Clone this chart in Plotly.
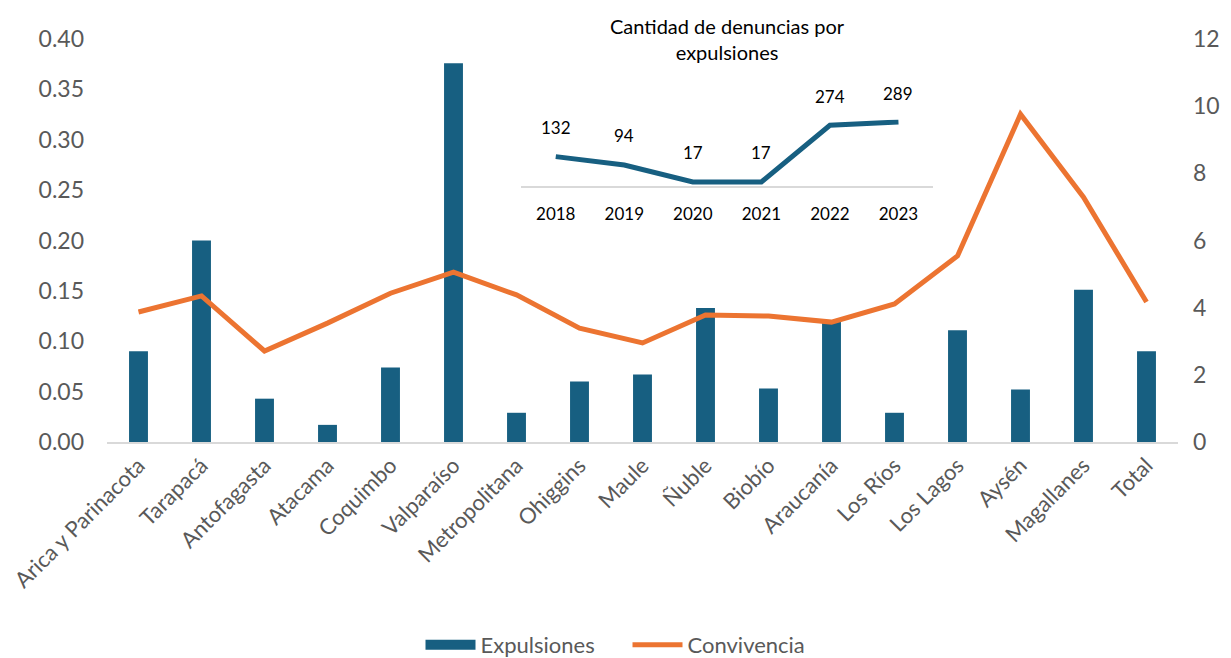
import plotly.graph_objects as go

regiones = ["Arica y Parinacota", "Tarapacá", "Antofagasta", "Atacama", "Coquimbo",
            "Valparaíso", "Metropolitana", "Ohiggins", "Maule", "Ñuble", "Biobío",
            "Araucanía", "Los Ríos", "Los Lagos", "Aysén", "Magallanes", "Total"]
expulsiones = [0.090, 0.200, 0.043, 0.017, 0.074, 0.376, 0.029, 0.060, 0.067,
               0.133, 0.053, 0.120, 0.029, 0.111, 0.052, 0.151, 0.090]
convivencia = [3.87, 4.35, 2.71, 3.54, 4.43, 5.06, 4.38, 3.39, 2.95,
               3.78, 3.75, 3.57, 4.11, 5.54, 9.76, 7.29, 4.17]

anios = [2018, 2019, 2020, 2021, 2022, 2023]
denuncias = [132, 94, 17, 17, 274, 289]

BLUE = "#175f81"
ORANGE = "#ec7431"
GRAY = "#595959"
FONT = "Lato"

fig = go.Figure()
fig.add_trace(go.Bar(x=regiones, y=expulsiones, name="Expulsiones", showlegend=False,
                     legendgroup="exp",
                     marker=dict(color=BLUE, line=dict(width=0)), width=0.3,
                     xaxis="x", yaxis="y"))
# legend entry for the bars, drawn as a wide block like the original
fig.add_trace(go.Scatter(x=[None], y=[None], name="Expulsiones", mode="lines",
                         legendgroup="exp", line=dict(color=BLUE, width=13),
                         xaxis="x", yaxis="y"))
fig.add_trace(go.Scatter(x=regiones, y=convivencia, name="Convivencia", mode="lines",
                         line=dict(color=ORANGE, width=5), xaxis="x", yaxis="y2"))
fig.add_trace(go.Scatter(x=anios, y=denuncias, mode="lines", showlegend=False,
                         line=dict(color=BLUE, width=5), xaxis="x3", yaxis="y3"))

annotations = []
for a, d in zip(anios, denuncias):
    annotations.append(dict(x=a, y=d, xref="x3", yref="y3", text=str(d), showarrow=False,
                            yshift=29, font=dict(family=FONT, size=17, color="black")))
annotations.append(dict(x=0.579, y=1.0, xref="paper", yref="paper",
                        text="Cantidad de denuncias por<br>expulsiones", showarrow=False,
                        xanchor="center", yanchor="middle",
                        font=dict(family=FONT, size=20, color="black")))

fig.update_layout(
    width=1231, height=658,
    margin=dict(l=107, r=53, t=39, b=216, autoexpand=False),
    paper_bgcolor="white", plot_bgcolor="white",
    font=dict(family=FONT, color=GRAY),
    bargap=0.7,
    xaxis=dict(domain=[0, 1], showgrid=False, showline=True, linecolor="#d9d9d9",
               linewidth=2, tickangle=-45, tickfont=dict(size=22, color=GRAY),
               ticks="", anchor="y", automargin=False),
    yaxis=dict(range=[0, 0.4], dtick=0.05, tickformat=".2f", showgrid=False,
               zeroline=False, tickfont=dict(size=23, color=GRAY), ticklabelstandoff=22,
               automargin=False),
    yaxis2=dict(range=[0, 12], dtick=2, overlaying="y", side="right", showgrid=False,
                zeroline=False, tickfont=dict(size=23, color=GRAY), ticklabelstandoff=14,
                automargin=False),
    xaxis3=dict(type="linear", domain=[0.387, 0.771], anchor="y3", range=[2017.5, 2023.5],
                tickmode="array", tickvals=anios, ticktext=[str(a) for a in anios],
                showgrid=False, zeroline=False,
                showline=True, linecolor="#d9d9d9", linewidth=2, ticks="",
                ticklabelstandoff=12, tickfont=dict(size=17, color="black")),
    yaxis3=dict(domain=[0.636, 0.80], anchor="x3", range=[0, 300], visible=False,
                showgrid=False, zeroline=False),
    annotations=annotations,
    legend=dict(orientation="h", x=0.486, xanchor="center", y=0.02, yref="container",
                yanchor="middle", font=dict(size=22, color=GRAY, family=FONT),
                itemwidth=50, entrywidth=142, entrywidthmode="pixels",
                traceorder="normal"),
)

fig.write_html("out.html", config={"displayModeBar": False},
               post_script="document.body.style.margin='0';")
